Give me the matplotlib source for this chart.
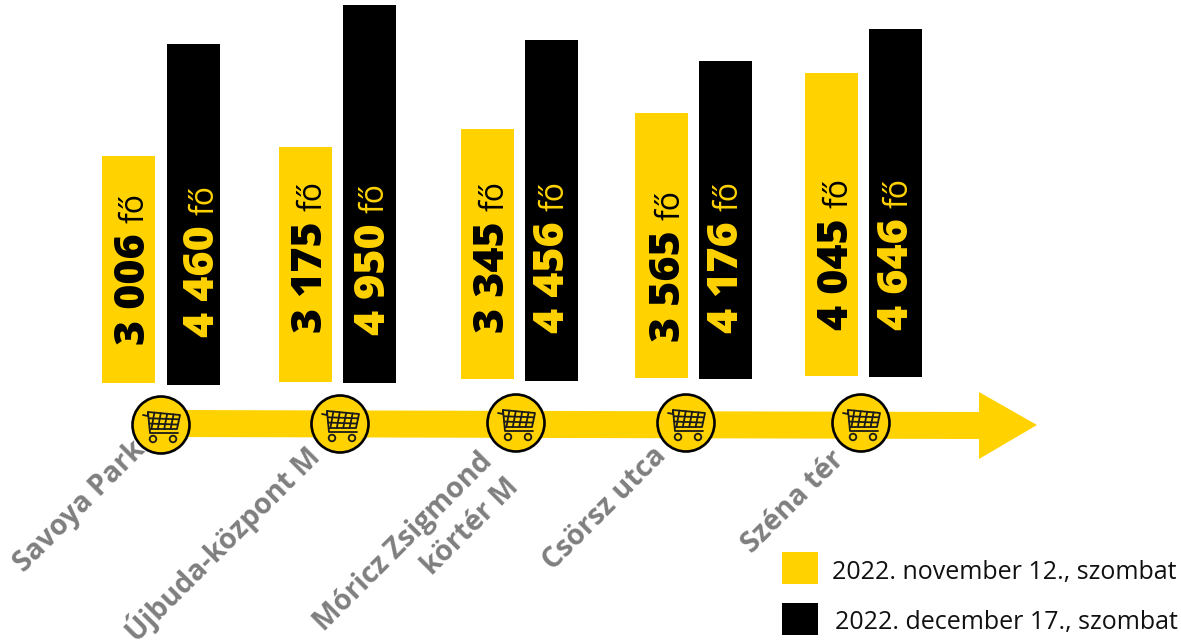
import matplotlib
matplotlib.use("Agg")
import matplotlib.pyplot as plt
from matplotlib.patches import Polygon, Circle, Rectangle

stores = ["Savoya Park", "Újbuda-központ M", "Móricz Zsigmond\nkörtér M", "Csörsz utca", "Széna tér"]
nov_values = [3006, 3175, 3345, 3565, 4045]
dec_values = [4460, 4950, 4456, 4176, 4646]
series_labels = ["2022. november 12., szombat", "2022. december 17., szombat"]
unit = "fő"

YELLOW = "#FFD200"
GREY = "#7F7F7F"
FONT = "Open Sans"

# layout (pixels): the source bars are hand-sized, so each has its own px-per-person factor
nov_x = [128.5, 305.5, 487.5, 661.5, 831.5]
dec_x = [193.5, 369.5, 551.5, 725.5, 895.5]
nov_base = [383, 382, 379, 378, 376]
dec_base = [385, 383, 381, 379, 377]
nov_scale = [0.07552, 0.07402, 0.07474, 0.07433, 0.07491]
dec_scale = [0.07646, 0.07636, 0.07653, 0.07615, 0.07490]
nov_text = [(145, 345), (322, 333), (504, 333), (680, 342), (848, 330)]
dec_text = [(214, 337), (385, 335), (564, 333), (738, 333), (908, 330)]
icon_x = [161, 340, 516, 686, 861]
icon_y = [425, 424, 423, 423, 423]
label_pos = [(131, 435), (303, 439), (478, 447), (652, 441), (830, 445)]

fig = plt.figure(figsize=(11.81, 6.40), dpi=100)
ax = fig.add_axes([0, 0, 1, 1])
ax.set_xlim(0, 1181)
ax.set_ylim(640, 0)
ax.axis("off")

ax.bar(nov_x, [v * k for v, k in zip(nov_values, nov_scale)], width=53,
       bottom=[b - v * k for b, v, k in zip(nov_base, nov_values, nov_scale)], color=YELLOW, zorder=2)
ax.bar(dec_x, [v * k for v, k in zip(dec_values, dec_scale)], width=53,
       bottom=[b - v * k for b, v, k in zip(dec_base, dec_values, dec_scale)], color="black", zorder=2)


def fmt(v):
    return f"{v:,}".replace(",", " ")


def value_label(pos, v, color):
    x, y = pos
    t = ax.text(x, y, fmt(v), rotation=90, rotation_mode="anchor", ha="left", va="baseline",
                fontsize=31, fontweight=800, family=FONT, color=color, zorder=3)
    fig.canvas.draw()
    bb = t.get_window_extent()
    top = 640 - bb.y1
    ax.text(x - 1, top - 10, unit, rotation=90, rotation_mode="anchor", ha="left", va="baseline",
            fontsize=23, fontweight="normal", family=FONT, color=color, zorder=3)


for p, v in zip(nov_text, nov_values):
    value_label(p, v, "black")
for p, v in zip(dec_text, dec_values):
    value_label(p, v, YELLOW)

# timeline arrow
ax.add_patch(Polygon([(170, 410), (979, 412), (979, 392), (1037, 425), (979, 459), (979, 439), (170, 437)],
                     closed=True, fc=YELLOW, ec="none", zorder=1))


def cart(cx, cy):
    lw = 1.3
    k = dict(color="#1a1a1a", lw=lw, zorder=5, solid_capstyle="round")
    ax.plot([cx - 18, cx - 13, cx - 13, cx - 11, cx + 17], [cy - 10, cy - 9, cy - 13, cy + 8, cy + 8], **k)
    ax.plot([cx - 13, cx + 19, cx + 16, cx - 11], [cy - 13, cy - 10, cy + 4, cy + 4], **k)
    for f in (0.2, 0.4, 0.6, 0.8):
        x0 = cx - 13 + 32 * f
        ax.plot([x0, x0 - 3], [cy - 13 + 3 * f, cy + 4], **k)
    for f in (0.33, 0.66):
        y0 = cy - 12 + 16 * f
        ax.plot([cx - 12, cx + 18 - 2 * f], [y0, y0 + 1], **k)
    for dx in (-8, 12):
        ax.add_patch(Circle((cx + dx, cy + 14), 3.3, fc="none", ec="#1a1a1a", lw=lw, zorder=5))


for cx, cy in zip(icon_x, icon_y):
    ax.add_patch(Circle((cx, cy), 28.5, fc=YELLOW, ec="black", lw=1.9, zorder=4))
    cart(cx, cy)

# rotated store labels
for (x, y), s in zip(label_pos, stores):
    ax.text(x, y, s, rotation=45, rotation_mode="anchor", ha="right", va="top", ma="right",
            fontsize=20.5, fontweight="bold", family=FONT, color=GREY, linespacing=1.35, zorder=3)

# legend
ax.add_patch(Rectangle((782, 552), 36, 32, fc=YELLOW, ec="none"))
ax.add_patch(Rectangle((782, 603), 36, 32, fc="black", ec="none"))
ax.text(832, 572, series_labels[0], fontsize=18, family=FONT, color="#111111", va="center", ha="left")
ax.text(835, 622, series_labels[1], fontsize=18, family=FONT, color="#111111", va="center", ha="left")

fig.savefig("out.png", dpi=100)
